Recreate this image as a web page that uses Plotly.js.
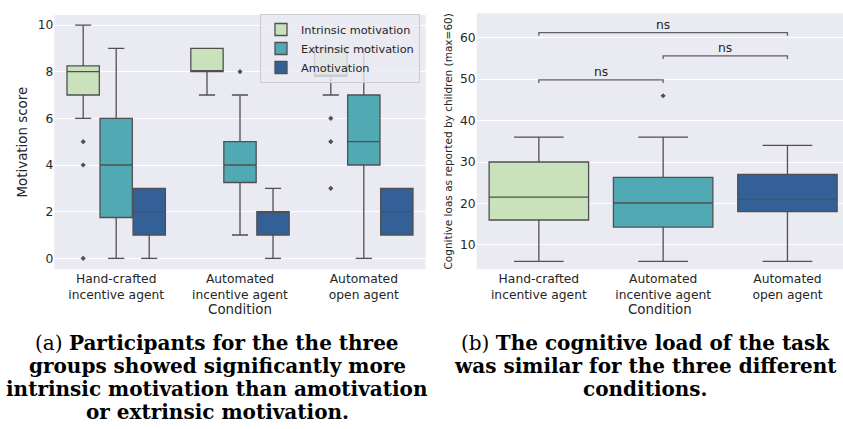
<!DOCTYPE html>
<html>
<head>
<meta charset="utf-8">
<script src="https://cdn.plot.ly/plotly-3.0.1.min.js"></script>
<style>html,body{margin:0;padding:0;background:#fff;}#chart{width:843px;height:429px;}</style>
</head>
<body>
<div id="chart"></div>
<script>
// ---------- data ----------
const conditions = [0, 1, 2];
const conditionLabels = ["Hand-crafted<br>incentive agent", "Automated<br>incentive agent", "Automated<br>open agent"];

// (a) motivation scores
const seriesNames = ["Intrinsic motivation", "Extrinsic motivation", "Amotivation"];
const intrinsicQ1 = [7, 8, 7.8];
const intrinsicMedian = [8, 8, 7.85];
const intrinsicQ3 = [8.25, 9, 9];
const intrinsicLow = [6, 7, 7];
const intrinsicHigh = [10, 9, 9];
const intrinsicOutliers = [[5, 4, 0], [], [6, 5, 3]];

const extrinsicQ1 = [1.75, 3.25, 4];
const extrinsicMedian = [4, 4, 5];
const extrinsicQ3 = [6, 5, 7];
const extrinsicLow = [0, 1, 0];
const extrinsicHigh = [9, 7, 9];
const extrinsicOutliers = [[], [8], []];

const amotQ1 = [1, 1, 1];
const amotMedian = [2, 2, 2];
const amotQ3 = [3, 2, 3];
const amotLow = [0, 0, 1];
const amotHigh = [3, 3, 3];
const amotOutliers = [[], [], []];

// (b) cognitive load
const loadQ1 = [16, 14.3, 18];
const loadMedian = [21.5, 20.1, 21];
const loadQ3 = [30, 26.3, 27];
const loadLow = [6, 6, 6];
const loadHigh = [36, 36, 34];
const loadOutliers = [[], [46], []];

// significance brackets (b)
const bracketFrom = [0, 1, 0];
const bracketTo = [1, 2, 2];
const bracketTip = [49.1, 54.85, 60.5];
const bracketTop = [49.85, 55.6, 61.25];
const bracketLabel = ["ns", "ns", "ns"];

// captions
const captionA = ["(a) <b>Participants for the the three</b>", "<b>groups showed significantly more</b>", "<b>intrinsic motivation than amotivation</b>", "<b>or extrinsic motivation.</b>"];
const captionB = ["(b) <b>The cognitive load of the task</b>", "<b>was similar for the three different</b>", "<b>conditions.</b>"];

// ---------- styles ----------
const fills = ["#c9e2bb", "#51a9b4", "#336097"];
const edge = "#505050";
const W = 843, H = 429;
const txt = "#262626";
const FONT = "DejaVu Sans, sans-serif";

const traces = [];
const groupA = [
  [intrinsicQ1, intrinsicMedian, intrinsicQ3, intrinsicLow, intrinsicHigh, intrinsicOutliers],
  [extrinsicQ1, extrinsicMedian, extrinsicQ3, extrinsicLow, extrinsicHigh, extrinsicOutliers],
  [amotQ1, amotMedian, amotQ3, amotLow, amotHigh, amotOutliers]
];
const boxW = 0.8 / 3 * 0.98;
groupA.forEach((g, s) => {
  const off = (s - 1) * 0.8 / 3;
  const xs = conditions.map(c => c + off);
  traces.push({
    type: "box", name: seriesNames[s], x: xs,
    q1: g[0], median: g[1], q3: g[2], lowerfence: g[3], upperfence: g[4],
    width: boxW, whiskerwidth: 0.5, boxpoints: false,
    fillcolor: fills[s], line: {color: edge, width: 1.3},
    xaxis: "x", yaxis: "y", showlegend: true, hoverinfo: "skip"
  });
  const ox = [], oy = [];
  g[5].forEach((arr, i) => arr.forEach(v => { ox.push(xs[i]); oy.push(v); }));
  traces.push({
    type: "scatter", mode: "markers", x: ox, y: oy, xaxis: "x", yaxis: "y",
    marker: {symbol: "diamond", size: 4, color: edge}, showlegend: false, hoverinfo: "skip"
  });
});

conditions.forEach((c, i) => {
  traces.push({
    type: "box", x: [c], q1: [loadQ1[i]], median: [loadMedian[i]], q3: [loadQ3[i]],
    lowerfence: [loadLow[i]], upperfence: [loadHigh[i]],
    width: 0.8, whiskerwidth: 0.5, boxpoints: false,
    fillcolor: fills[i], line: {color: edge, width: 1.3},
    xaxis: "x2", yaxis: "y2", showlegend: false, hoverinfo: "skip"
  });
});
{
  const ox = [], oy = [];
  loadOutliers.forEach((arr, i) => arr.forEach(v => { ox.push(conditions[i]); oy.push(v); }));
  traces.push({
    type: "scatter", mode: "markers", x: ox, y: oy, xaxis: "x2", yaxis: "y2",
    marker: {symbol: "diamond", size: 4, color: edge}, showlegend: false, hoverinfo: "skip"
  });
}

const shapes = [];
const annotations = [];
bracketFrom.forEach((a, i) => {
  const b = bracketTo[i];
  shapes.push({
    type: "path", xref: "x2", yref: "y2",
    path: `M ${a} ${bracketTip[i]} L ${a} ${bracketTop[i]} L ${b} ${bracketTop[i]} L ${b} ${bracketTip[i]}`,
    line: {color: "#606060", width: 1.3}
  });
  annotations.push({
    xref: "x2", yref: "y2", x: (a + b) / 2, y: bracketTop[i], yanchor: "bottom", yshift: -1,
    text: bracketLabel[i], showarrow: false, font: {family: FONT, size: 12.3, color: txt}
  });
});

const capFont = {family: "DejaVu Serif, serif", size: 20, color: "#000"};
const capY0 = 343, capDY = 23;
captionA.forEach((t, i) => annotations.push({
  xref: "paper", yref: "paper", x: 217 / W, y: 1 - (capY0 + i * capDY) / H,
  xanchor: "center", yanchor: "middle", text: t, showarrow: false, font: capFont
}));
captionB.forEach((t, i) => annotations.push({
  xref: "paper", yref: "paper", x: 645 / W, y: 1 - (capY0 + i * capDY) / H,
  xanchor: "center", yanchor: "middle", text: t, showarrow: false, font: capFont
}));

const tickFont = {family: FONT, size: 12.3, color: txt};
const titleFont = {family: FONT, size: 13.4, color: txt};
const xBase = {
  tickvals: conditions, ticktext: conditionLabels, showgrid: false, zeroline: false,
  ticks: "", showline: false, tickfont: tickFont,
  title: {text: "Condition", font: titleFont, standoff: 0}
};
const layout = {
  width: W, height: H, margin: {l: 0, r: 0, t: 0, b: 0},
  paper_bgcolor: "#ffffff", plot_bgcolor: "#eaeaf2",
  font: {family: FONT, color: txt},
  xaxis: Object.assign({}, xBase, {domain: [54.3 / W, 425.7 / W], range: [-0.5, 2.5], anchor: "y"}),
  yaxis: {domain: [(H - 269.3) / H, (H - 15) / H], range: [-0.47, 10.43], anchor: "x",
    tickvals: [0, 2, 4, 6, 8, 10], showgrid: true, gridcolor: "#ffffff", gridwidth: 1,
    zeroline: false, ticks: "", tickfont: tickFont,
    title: {text: "Motivation score", font: titleFont, standoff: 6}},
  xaxis2: Object.assign({}, xBase, {domain: [476.7 / W, 1], range: [-0.5, 2.447], anchor: "y2"}),
  yaxis2: {domain: [(H - 269.3) / H, (H - 13.3) / H], range: [4.1, 65.9], anchor: "x2",
    tickvals: [10, 20, 30, 40, 50, 60], showgrid: true, gridcolor: "#ffffff", gridwidth: 1,
    zeroline: false, ticks: "", tickfont: tickFont,
    title: {text: "Cognitive loas as reported by children (max=60)", font: {family: FONT, size: 10.5, color: txt}, standoff: 5}},
  legend: {x: 420 / W, xanchor: "right", y: 1 - 14 / H, yanchor: "top",
    bgcolor: "rgba(234,234,242,0.8)", bordercolor: "#cccccc", borderwidth: 1,
    font: {family: FONT, size: 11.3, color: txt}, tracegroupgap: 0},
  shapes: shapes, annotations: annotations, showlegend: true
};
Plotly.newPlot("chart", traces, layout, {displayModeBar: false, staticPlot: true});
</script>
</body>
</html>
